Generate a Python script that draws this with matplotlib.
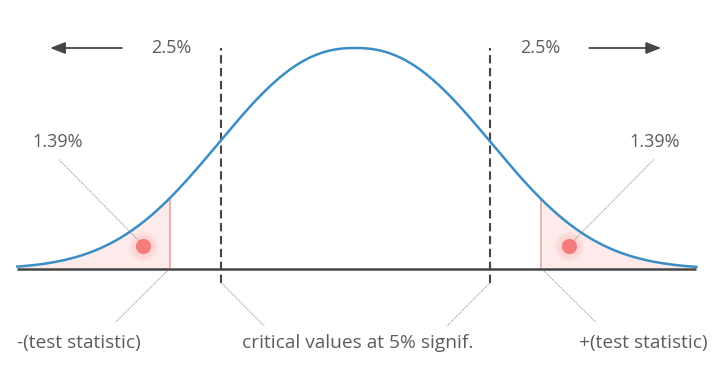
import matplotlib
matplotlib.use("Agg")
import matplotlib.pyplot as plt
import numpy as np

# values in z-units; curve height normalised to peak = 1
Z_RANGE = [-2.68, 2.71]
Z_CRIT = [-1.06, 1.07]
Z_STAT = [-1.47, 1.48]
Z_DOT = [-1.68, 1.70]
DOT_HEIGHT = [0.104, 0.104]
TAIL_LABELS = ["2.5%", "2.5%"]
PVAL_LABELS = ["1.39%", "1.39%"]
BOTTOM_LABELS = ["-(test statistic)", "critical values at 5% signif.", "+(test statistic)"]

# bell shape of the illustration (slightly flatter top than a pure gaussian)
SHAPE_SCALE = 1.39
SHAPE_POWER = 2.3

BLUE = "#3a8dc5"
DARK = "#454545"
TEXT = "#5c5c5c"
PINK_FILL = "#fdeaea"
RED_LINE = "#e79a9a"
DOT = "#f57c7c"
HALO = "#fcd3d3"
LEADER = "#8a8a8a"

plt.rcParams["font.family"] = ["Open Sans", "DejaVu Sans"]


def bell(x):
    return np.exp(-(np.abs(x) / SHAPE_SCALE) ** SHAPE_POWER)


fig = plt.figure(figsize=(7.18, 3.70), dpi=100)
ax = fig.add_axes([0, 0, 1, 1])
ax.set_xlim(-355 / 126, 363 / 126)
ax.set_ylim(-101 / 221, 269 / 221)
ax.axis("off")

z = np.linspace(Z_RANGE[0], Z_RANGE[1], 600)
pdf = bell(z)

# shaded tails beyond the test statistic
for s in Z_STAT:
    mask = z <= s if s < 0 else z >= s
    ax.fill_between(z[mask], 0, pdf[mask], color=PINK_FILL, lw=0, zorder=1)
    ax.plot([s, s], [0, bell(s)], color=RED_LINE, lw=1.1, zorder=2)

ax.plot(Z_RANGE, [0, 0], color=DARK, lw=1.8, zorder=3, solid_capstyle="butt")
ax.plot(z, pdf, color=BLUE, lw=1.8, zorder=4)

# critical value dashed lines
for c in Z_CRIT:
    ax.plot([c, c], [-0.063, 1.0], color=DARK, lw=1.5, ls=(0, (4, 2.2)), zorder=3)

# red dots with halo
ax.scatter(Z_DOT, DOT_HEIGHT, s=430, color=HALO, alpha=0.45, lw=0, zorder=5)
ax.scatter(Z_DOT, DOT_HEIGHT, s=270, color=HALO, alpha=0.8, lw=0, zorder=5)
ax.scatter(Z_DOT, DOT_HEIGHT, s=120, color=DOT, lw=0, zorder=6)

leader = dict(color=LEADER, lw=0.7, ls=(0, (1, 1)), zorder=5)

# p-value labels and leaders
for d, lab in zip(Z_DOT, PVAL_LABELS):
    sgn = np.sign(d)
    ax.text(d + sgn * 0.68, 0.575, lab, ha="center", va="center",
            fontsize=13, color=TEXT)
    ax.plot([d + sgn * 0.67, d + sgn * 0.04], [0.495, 0.131], **leader)

# test statistic leaders
for s in Z_STAT:
    sgn = np.sign(s)
    ax.plot([s + sgn * 0.02, s + sgn * 0.43], [-0.009, -0.240], **leader)

# critical value leaders
for c in Z_CRIT:
    sgn = np.sign(c)
    ax.plot([c, c - sgn * 0.34], [-0.063, -0.258], **leader)

# tail area labels and arrows
for c, lab in zip(Z_CRIT, TAIL_LABELS):
    sgn = np.sign(c)
    ax.text(c + sgn * 0.40, 1.0, lab, ha="center", va="center",
            fontsize=13, color=TEXT)
    ax.annotate("", xy=(c + sgn * 1.36, 1.0), xytext=(c + sgn * 0.79, 1.0),
                arrowprops=dict(arrowstyle="-|>,head_length=0.9,head_width=0.35",
                                color=DARK, lw=1.3, shrinkA=0, shrinkB=0))

# bottom labels
ax.text(Z_RANGE[0], -0.335, BOTTOM_LABELS[0], ha="left", va="center",
        fontsize=13.8, color=TEXT)
ax.text(0.02, -0.335, BOTTOM_LABELS[1], ha="center", va="center",
        fontsize=13.8, color=TEXT)
ax.text(2.80, -0.335, BOTTOM_LABELS[2], ha="right", va="center",
        fontsize=13.8, color=TEXT)

fig.savefig("out.png", dpi=100)
